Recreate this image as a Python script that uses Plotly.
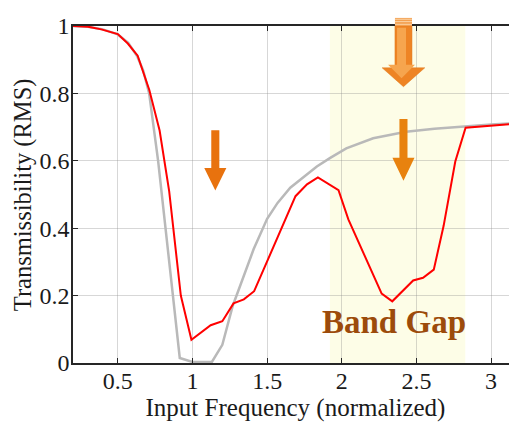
import plotly.graph_objects as go

# ---------------- data ----------------
freq_red = [0.2, 0.3, 0.39, 0.5, 0.567, 0.633, 0.711, 0.78, 0.844, 0.922, 0.993,
            1.122, 1.2, 1.275, 1.344, 1.413, 1.69, 1.767, 1.84, 1.978, 2.044,
            2.267, 2.338, 2.478, 2.544, 2.616, 2.682, 2.76, 2.829, 3.18]
trans_red = [1.0, 0.998, 0.99, 0.976, 0.948, 0.912, 0.81, 0.69, 0.51, 0.20, 0.069,
             0.112, 0.124, 0.177, 0.189, 0.213, 0.495, 0.53, 0.551, 0.513, 0.426,
             0.206, 0.183, 0.245, 0.253, 0.277, 0.407, 0.598, 0.698, 0.711]

freq_gray = [0.2, 0.3, 0.4, 0.5, 0.57, 0.63, 0.67, 0.71, 0.77, 0.82, 0.87, 0.915,
             1.0, 1.13, 1.2, 1.27, 1.32, 1.37, 1.41, 1.5, 1.57, 1.655, 1.75, 1.833,
             1.92, 2.03, 2.21, 2.43, 2.62, 2.83, 3.0, 3.18]
trans_gray = [1.0, 0.998, 0.99, 0.975, 0.95, 0.91, 0.868, 0.80, 0.60, 0.40, 0.19, 0.015,
              0.003, 0.003, 0.054, 0.17, 0.23, 0.29, 0.338, 0.428, 0.475, 0.52, 0.555, 0.583,
              0.608, 0.637, 0.667, 0.686, 0.695, 0.703, 0.708, 0.712]

band_gap = [1.92, 2.827]
x_ticks = [0.5, 1, 1.5, 2, 2.5, 3]
x_ticklabels = ["0.5", "1", "1.5", "2", "2.5", "3"]
y_ticks = [0, 0.2, 0.4, 0.6, 0.8, 1]
y_ticklabels = ["0", "0.2", "0.4", "0.6", "0.8", "1"]

X_RANGE = [0.2, 3.18]
Y_RANGE = [0, 1]

FONT = "Liberation Serif"
TXT = "#1a1a1a"

fig = go.Figure()

fig.add_trace(go.Scatter(x=freq_gray, y=trans_gray, mode="lines",
                         line=dict(color="#b9b9b9", width=2.5), showlegend=False))
fig.add_trace(go.Scatter(x=freq_red, y=trans_red, mode="lines",
                         line=dict(color="#ff0000", width=2), showlegend=False))

# band gap shading
fig.add_shape(type="rect", xref="x", yref="paper", x0=band_gap[0], x1=band_gap[1],
              y0=0, y1=1, fillcolor="#fdfde7", line=dict(width=0), layer="below")


def px(xd):
    return (xd - X_RANGE[0]) / (X_RANGE[1] - X_RANGE[0])


def arrow_path(xc, ytop, yhead, ytip, shaft_hw, head_hw):
    pts = [(xc - shaft_hw, ytop), (xc + shaft_hw, ytop), (xc + shaft_hw, yhead),
           (xc + head_hw, yhead), (xc, ytip), (xc - head_hw, yhead),
           (xc - shaft_hw, yhead)]
    return "M " + " L ".join(f"{px(a):.5f},{b:.5f}" for a, b in pts) + " Z"


# small arrows
fig.add_shape(type="path", xref="paper", yref="paper",
              path=arrow_path(1.153, 0.691, 0.579, 0.512, 0.027, 0.074),
              fillcolor="#e8720e", line=dict(width=0))
fig.add_shape(type="path", xref="paper", yref="paper",
              path=arrow_path(2.413, 0.724, 0.609, 0.541, 0.027, 0.074),
              fillcolor="#e8820e", line=dict(width=0))

# big gradient-like arrow
fig.add_shape(type="path", xref="paper", yref="paper",
              path=arrow_path(2.413, 1.0, 0.876, 0.82, 0.057, 0.143),
              fillcolor="#ee8424", line=dict(color="#e07a1e", width=0.5))
fig.add_shape(type="path", xref="paper", yref="paper",
              path=arrow_path(2.40, 0.995, 0.885, 0.845, 0.03, 0.09),
              fillcolor="#f6a54e", line=dict(width=0))
fig.add_shape(type="rect", xref="paper", yref="paper",
              x0=px(2.413 - 0.057), x1=px(2.413 + 0.057), y0=1.0, y1=1.024,
              fillcolor="#f3a050", line=dict(width=0))
for yy in [1.005, 1.013, 1.020]:
    fig.add_shape(type="line", xref="paper", yref="paper",
                  x0=px(2.413 - 0.057), x1=px(2.413 + 0.057), y0=yy, y1=yy,
                  line=dict(color="#fbd2a4", width=1))

fig.add_annotation(x=2.35, y=0.121, xref="x", yref="paper", text="<b>Band Gap</b>",
                   showarrow=False, font=dict(family=FONT, size=33, color="#9c4b0b"),
                   xanchor="center", yanchor="middle")

# y-axis title as rotated annotation
fig.add_annotation(x=-0.112, y=0.4985, xref="paper", yref="paper",
                   text="Transmissibility (RMS)", textangle=-90, showarrow=False,
                   font=dict(family=FONT, size=24.5, color=TXT),
                   xanchor="center", yanchor="middle", borderpad=0)

axis_common = dict(showline=True, linecolor="#262626", linewidth=1.5, mirror="ticks",
                   ticks="inside", ticklen=5, tickwidth=1, tickcolor="#262626",
                   showgrid=True, gridcolor="rgba(140,140,140,0.35)", gridwidth=1,
                   zeroline=False, tickfont=dict(family=FONT, size=24, color=TXT))

fig.update_xaxes(range=X_RANGE, tickvals=x_ticks, ticktext=x_ticklabels,
                 ticklabelstandoff=-5,
                 title=dict(text="Input Frequency (normalized)",
                            font=dict(family=FONT, size=25, color=TXT), standoff=4),
                 **axis_common)
fig.update_yaxes(range=Y_RANGE, tickvals=y_ticks, ticktext=y_ticklabels,
                 ticklabelstandoff=-3,
                 **axis_common)

fig.update_layout(width=517, height=428, margin=dict(l=65, r=5, t=15, b=73),
                  plot_bgcolor="white", paper_bgcolor="white", showlegend=False)

fig.write_html("out.html")
